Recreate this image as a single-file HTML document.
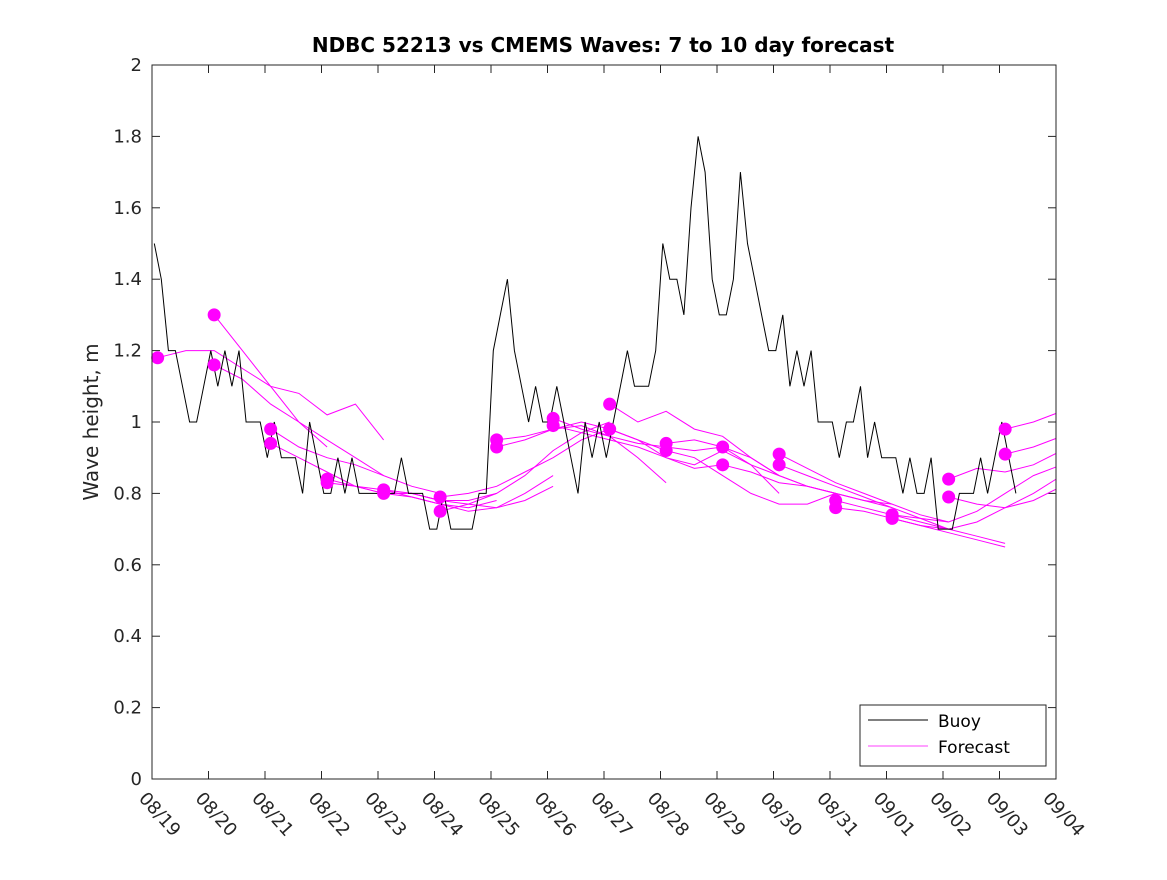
<!DOCTYPE html>
<html><head><meta charset="utf-8"><style>
body{margin:0;background:#fff;}
svg text{font-family:"DejaVu Sans","Liberation Sans",sans-serif;}
</style></head><body>
<svg id="c" width="1167" height="875" xmlns="http://www.w3.org/2000/svg">
<rect width="1167" height="875" fill="#fff"/>
<text x="603" y="52" text-anchor="middle" font-size="20" font-weight="bold" fill="#000">NDBC 52213 vs CMEMS Waves: 7 to 10 day forecast</text>
<text transform="translate(98,422) rotate(-90)" text-anchor="middle" font-size="20" fill="#262626">Wave height, m</text>
<g id="grid"></g>
<g id="series"></g>
<rect x="152" y="65" width="904" height="714" fill="none" stroke="#262626" stroke-width="1"/>
<g>
<rect x="860" y="705" width="186" height="61" fill="#fff" stroke="#262626" stroke-width="1"/>
<line x1="868" y1="720" x2="928" y2="720" stroke="#000"/>
<text x="938" y="727" font-size="17" fill="#000">Buoy</text>
<line x1="868" y1="746" x2="928" y2="746" stroke="#f0f" stroke-width="0.8"/>
<text x="938" y="753" font-size="17" fill="#000">Forecast</text>
</g>
</svg>
<script>
const xTicks=["08/19","08/20","08/21","08/22","08/23","08/24","08/25","08/26","08/27","08/28","08/29","08/30","08/31","09/01","09/02","09/03","09/04"];
const yTicks=[0,0.2,0.4,0.6,0.8,1,1.2,1.4,1.6,1.8,2];
const buoyStep=0.125;
const buoy=[1.5,1.4,1.2,1.2,1.1,1.0,1.0,1.1,
1.2,1.1,1.2,1.1,1.2,1.0,1.0,1.0,
0.9,1.0,0.9,0.9,0.9,0.8,1.0,0.9,
0.8,0.8,0.9,0.8,0.9,0.8,0.8,0.8,
0.8,0.8,0.8,0.9,0.8,0.8,0.8,0.7,
0.7,0.8,0.7,0.7,0.7,0.7,0.8,0.8,
1.2,1.3,1.4,1.2,1.1,1.0,1.1,1.0,
1.0,1.1,1.0,0.9,0.8,1.0,0.9,1.0,
0.9,1.0,1.1,1.2,1.1,1.1,1.1,1.2,
1.5,1.4,1.4,1.3,1.6,1.8,1.7,1.4,
1.3,1.3,1.4,1.7,1.5,1.4,1.3,1.2,
1.2,1.3,1.1,1.2,1.1,1.2,1.0,1.0,
1.0,0.9,1.0,1.0,1.1,0.9,1.0,0.9,
0.9,0.9,0.8,0.9,0.8,0.8,0.9,0.7,
0.7,0.7,0.8,0.8,0.8,0.9,0.8,0.9,
1.0,0.9,0.8];
const fcStep=0.5;
const fcStart=[0.1,1.1,1.1,2.1,2.1,3.1,3.1,4.1,4.1,5.1,5.1,6.1,6.1,7.1,7.1,8.1,8.1,9.1,9.1,10.1,10.1,11.1,11.1,12.1,12.1,13.1,13.1,14.1,14.1,15.1,15.1];
const fcValues=[
[1.18,1.2,1.2,1.15,1.1,1.0,0.93],
[1.3,1.2,1.1,1.08,1.02,1.05,0.95],
[1.16,1.12,1.05,1.0,0.95,0.9,0.85],
[0.98,0.93,0.9,0.88,0.85,0.82,0.8],
[0.94,0.9,0.86,0.82,0.8,0.8,0.78],
[0.84,0.82,0.8,0.8,0.78,0.78,0.8],
[0.83,0.82,0.81,0.79,0.77,0.76,0.78],
[0.81,0.8,0.78,0.77,0.76,0.78,0.82],
[0.8,0.79,0.77,0.75,0.76,0.8,0.85],
[0.79,0.8,0.82,0.86,0.9,0.95,0.98],
[0.75,0.77,0.8,0.85,0.92,0.97,1.0],
[0.95,0.96,0.98,1.0,0.98,0.95,0.92],
[0.93,0.95,0.98,0.99,0.96,0.9,0.83],
[1.01,0.98,0.96,0.94,0.93,0.92,0.93],
[0.99,0.97,0.95,0.93,0.9,0.87,0.88],
[1.05,1.0,1.03,0.98,0.96,0.9,0.85],
[0.98,0.95,0.9,0.88,0.92,0.88,0.8],
[0.94,0.95,0.93,0.9,0.85,0.82,0.8],
[0.92,0.9,0.85,0.8,0.77,0.77,0.8],
[0.93,0.88,0.85,0.82,0.8,0.78,0.76],
[0.88,0.86,0.83,0.82,0.8,0.78,0.77],
[0.91,0.87,0.83,0.8,0.77,0.74,0.72],
[0.88,0.85,0.82,0.79,0.76,0.73,0.7],
[0.78,0.76,0.74,0.72,0.7,0.68,0.66],
[0.76,0.75,0.73,0.71,0.69,0.67,0.65],
[0.74,0.73,0.72,0.75,0.8,0.85,0.88],
[0.73,0.71,0.7,0.72,0.76,0.8,0.85],
[0.84,0.87,0.86,0.88,0.92,0.98,1.03],
[0.79,0.77,0.76,0.78,0.82,0.85,0.9],
[0.98,1.0,1.03,1.08],
[0.91,0.93,0.96,1.0]];
const NS="http://www.w3.org/2000/svg";
const X0=152,X1=1056,Y0=779,Y1=65;
const xs=d=>X0+d*(X1-X0)/16;
const ys=v=>Y0-v*(Y0-Y1)/2;
function mk(t,a,p){const e=document.createElementNS(NS,t);for(const k in a)e.setAttribute(k,a[k]);p.appendChild(e);return e;}
const g=document.getElementById('grid');
yTicks.forEach(v=>{
 mk('line',{x1:X0,x2:X0+8,y1:ys(v),y2:ys(v),stroke:'#262626'},g);
 mk('line',{x1:X1,x2:X1-8,y1:ys(v),y2:ys(v),stroke:'#262626'},g);
 const t=mk('text',{x:X0-10,y:ys(v)+6,'text-anchor':'end','font-size':'18',fill:'#262626'},g);
 t.textContent=String(v);
 
 
});
xTicks.forEach((s,i)=>{
 const x=xs(i);
 mk('line',{x1:x,x2:x,y1:Y0,y2:Y0-8,stroke:'#262626'},g);
 mk('line',{x1:x,x2:x,y1:Y1,y2:Y1+8,stroke:'#262626'},g);
 const t=mk('text',{transform:`translate(${x-14},${Y0+20}) rotate(48)`,'font-size':'18',fill:'#262626'},g);
 t.textContent=s;
 
 
});
const sg=document.getElementById('series');
const clip=mk('clipPath',{id:'cp'},sg);mk('rect',{x:X0,y:Y1,width:X1-X0,height:Y0-Y1},clip);
fcValues.forEach((vals,i)=>{
 const pts=vals.map((v,j)=>xs(fcStart[i]+j*fcStep).toFixed(1)+','+ys(v).toFixed(1)).join(' ');
 const l=mk('polyline',{points:pts,fill:'none',stroke:'#f0f','stroke-width':'1','clip-path':'url(#cp)'},sg);
 
 
});
const bp=buoy.map((v,j)=>xs(0.04+j*buoyStep).toFixed(1)+','+ys(v).toFixed(1)).join(' ');
const bl=mk('polyline',{points:bp,fill:'none',stroke:'#000','stroke-width':'1'},sg);


fcValues.forEach((vals,i)=>{
 const c=mk('circle',{cx:xs(fcStart[i]),cy:ys(vals[0]),r:6.5,fill:'#f0f'},sg);
 
 
});
</script>
</body></html>
